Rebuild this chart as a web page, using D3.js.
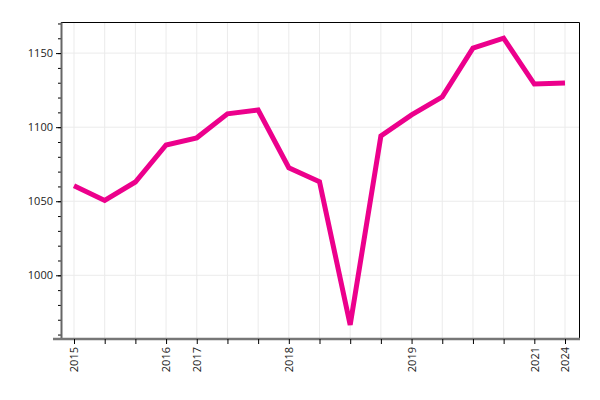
<!DOCTYPE html>
<html>
<head>
<meta charset="utf-8">
<script src="https://cdn.jsdelivr.net/npm/d3@7"></script>
<style>
  body { margin: 0; background: #fff; }
  svg { display: block; font-family: "Open Sans", sans-serif; }
</style>
</head>
<body>
<svg id="chart" width="600" height="400"></svg>
<script>
// one entry per point; only some carry a year label
const tickLabels = ["2015", "", "", "2016", "2017", "", "", "2018", "", "", "", "2019", "", "", "", "2021", "2024"];
const values = [1060.5, 1050.5, 1063, 1088, 1092.8, 1109, 1111.6, 1072.6, 1063.2, 966.5, 1094, 1108.3, 1120.4, 1153.4, 1160.1, 1129.1, 1129.8];
const yTicks = [1000, 1050, 1100, 1150];

const svg = d3.select("#chart");
const margin = { top: 22, right: 20, bottom: 61, left: 61 };
const width = 600 - margin.left - margin.right;
const height = 400 - margin.top - margin.bottom;

const g = svg.append("g")
  .attr("transform", `translate(${margin.left},${margin.top})`);

const idx = values.map((d, i) => i);

const x = d3.scalePoint()
  .domain(idx)
  .range([13, width - 15]);

const y = d3.scaleLinear()
  .domain([957, 1171])
  .range([height, 0]);

// grid
g.append("g")
  .selectAll("line")
  .data(idx)
  .join("line")
  .attr("x1", d => x(d)).attr("x2", d => x(d))
  .attr("y1", 0).attr("y2", height)
  .attr("stroke", "#ebebeb");

g.append("g")
  .selectAll("line")
  .data(yTicks)
  .join("line")
  .attr("x1", 0).attr("x2", width)
  .attr("y1", d => y(d)).attr("y2", d => y(d))
  .attr("stroke", "#ebebeb");

// frame top / right
g.append("path")
  .attr("d", `M0,0.5H${width - 0.5}V${height}`)
  .attr("fill", "none")
  .attr("stroke", "#000");

// minor y ticks
g.append("g")
  .call(d3.axisLeft(y).ticks(20).tickSize(3).tickFormat(""))
  .call(a => a.select(".domain").remove())
  .selectAll("line").attr("stroke", "#000");

// y axis
const yAxis = g.append("g")
  .call(d3.axisLeft(y).tickValues(yTicks).tickSize(5).tickSizeOuter(0).tickPadding(3).tickFormat(d3.format("d")));
yAxis.select(".domain").attr("stroke", "#666").attr("stroke-width", 2);
yAxis.selectAll("text").attr("font-size", 11).attr("fill", "#222").style("font-family", "Open Sans");

// x axis
const xAxis = g.append("g")
  .attr("transform", `translate(0,${height})`)
  .call(d3.axisBottom(x).tickSize(5).tickSizeOuter(0).tickFormat(i => tickLabels[i]));
xAxis.select(".domain")
  .attr("d", `M-8,0H${width}`)
  .attr("stroke", "#777").attr("stroke-width", 2.5);
xAxis.selectAll("text")
  .attr("font-size", 11)
  .attr("fill", "#222")
  .style("font-family", "Open Sans")
  .style("text-anchor", "end")
  .attr("transform", "rotate(-90)")
  .attr("x", -8)
  .attr("y", 0)
  .attr("dy", "0.35em");

// line
const line = d3.line()
  .x((d, i) => x(i))
  .y(d => y(d));

g.append("path")
  .datum(values)
  .attr("fill", "none")
  .attr("stroke", "#ec008c")
  .attr("stroke-width", 5)
  .attr("stroke-linejoin", "miter")
  .attr("d", line);
</script>
</body>
</html>
